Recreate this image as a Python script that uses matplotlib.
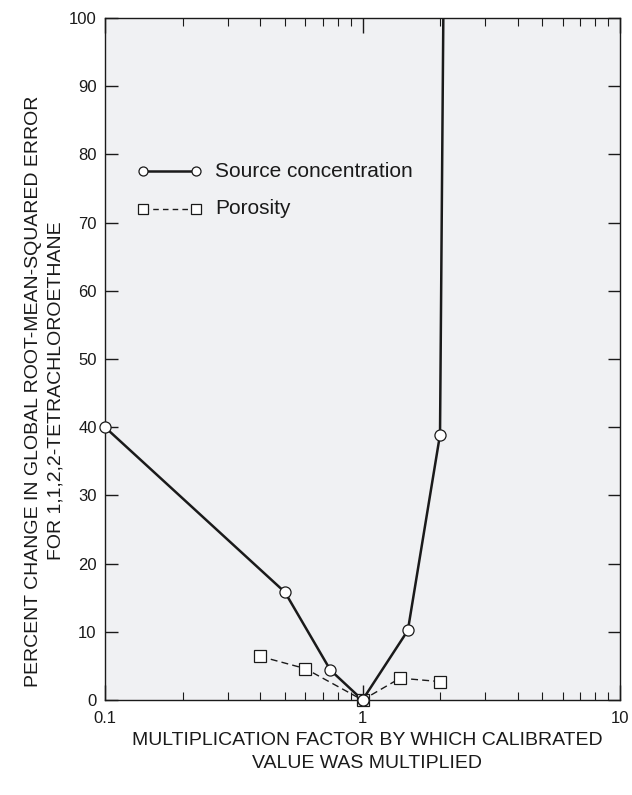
import matplotlib
matplotlib.use("Agg")
from matplotlib import pyplot as plt
from matplotlib.ticker import LogLocator, NullFormatter, FixedLocator, FixedFormatter

plt.rcParams['font.family'] = ['Liberation Sans', 'DejaVu Sans']

# data
source_x = [0.1, 0.5, 0.75, 1.0, 1.5, 2.0, 2.5]
source_y = [40.0, 15.8, 4.4, 0.0, 10.2, 38.9, 500.0]
poro_x = [0.4, 0.6, 1.0, 1.4, 2.0]
poro_y = [6.4, 4.6, 0.0, 3.2, 2.7]

xticks = [0.1, 1, 10]
xlabels = ["0.1", "1", "10"]
yticks = list(range(0, 101, 10))

fig = plt.figure(figsize=(6.32, 7.95), dpi=100)
ax = fig.add_axes([105/632, 1 - 700/795, 515/632, 682/795])
ax.set_facecolor("#f0f1f3")

ax.plot(source_x, source_y, "-", color="#1a1a1a", lw=1.8, zorder=3)
ax.plot(source_x[:-1], source_y[:-1], "o", ms=8, mfc="white",
        mec="#1a1a1a", mew=0.9, zorder=4, clip_on=False)
ax.plot(poro_x, poro_y, "--", color="#1a1a1a", lw=1.0, dashes=(5, 3),
        zorder=3)
ax.plot(poro_x, poro_y, "s", ms=8.5, mfc="white", mec="#1a1a1a",
        mew=0.9, zorder=3, clip_on=False)
# circle at 1 sits on top of the square
ax.plot([1.0], [0.0], "o", ms=8, mfc="white", mec="#1a1a1a", mew=0.9,
        zorder=5, clip_on=False)

ax.set_xscale("log")
ax.set_xlim(0.1, 10)
ax.set_ylim(0, 100)

ax.xaxis.set_major_locator(FixedLocator(xticks))
ax.xaxis.set_major_formatter(FixedFormatter(xlabels))
ax.xaxis.set_minor_locator(LogLocator(base=10, subs=range(2, 10)))
ax.xaxis.set_minor_formatter(NullFormatter())
ax.set_yticks(yticks)

ax.tick_params(axis="both", which="major", direction="in", top=True,
               right=True, length=9, width=1.0, labelsize=12,
               colors="#1a1a1a", pad=6)
ax.tick_params(axis="x", which="minor", direction="in", top=True,
               length=6, width=0.8, colors="#1a1a1a")
ax.tick_params(axis="x", which="major", length=11, pad=8)
for s in ax.spines.values():
    s.set_linewidth(1.0)
    s.set_color("#1a1a1a")

# legend drawn by hand
leg_x = [0.141, 0.225]
ax.plot(leg_x, [77.5, 77.5], "-", color="#1a1a1a", lw=1.8)
ax.plot(leg_x, [77.5, 77.5], "o", ms=6.5, mfc="white", mec="#1a1a1a",
        mew=0.9)
ax.text(0.268, 77.5, "Source concentration", fontsize=15, va="center",
        ha="left", color="#1a1a1a")
ax.plot(leg_x, [72.0, 72.0], "--", color="#1a1a1a", lw=1.0, dashes=(4, 3))
ax.plot(leg_x, [72.0, 72.0], "s", ms=6.5, mfc="white", mec="#1a1a1a",
        mew=0.9)
ax.text(0.268, 72.0, "Porosity", fontsize=15, va="center", ha="left",
        color="#1a1a1a")

fig.text(367/632, 1 - 752/795,
         "MULTIPLICATION FACTOR BY WHICH CALIBRATED\nVALUE WAS MULTIPLIED",
         ha="center", va="center", fontsize=14, color="#1a1a1a",
         linespacing=1.45)
fig.text(45/632, 1 - 391/795,
         "PERCENT CHANGE IN GLOBAL ROOT-MEAN-SQUARED ERROR\nFOR 1,1,2,2-TETRACHLOROETHANE",
         ha="center", va="center", rotation=90, fontsize=14,
         color="#1a1a1a", linespacing=1.45)

fig.savefig("out.png", dpi=100)
